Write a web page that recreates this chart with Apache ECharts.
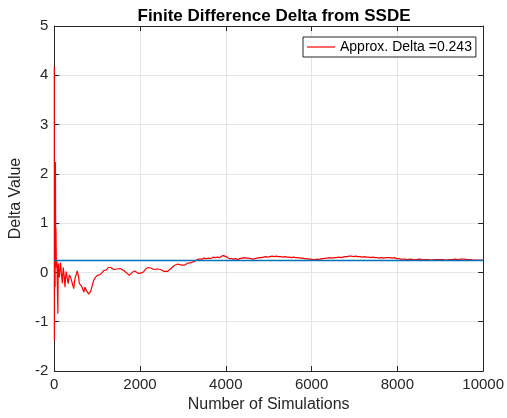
<!DOCTYPE html>
<html>
<head>
<meta charset="utf-8">
<script src="https://cdn.jsdelivr.net/npm/echarts@6/dist/echarts.min.js"></script>
<style>
  html, body { margin: 0; padding: 0; background: #fff; }
  #chart { width: 507px; height: 418px; }
</style>
</head>
<body>
<div id="chart"></div>
<script>
// Running estimate of the finite-difference delta vs. number of simulations
const simCounts = [1, 3, 8, 14, 20, 28, 34, 40, 50, 62, 72, 84, 92, 98, 108, 120, 132, 145, 159, 170, 180, 189, 200, 210, 220, 235, 250, 265, 278, 289, 300, 315, 325, 340, 352, 364, 380, 402, 420, 440, 455, 470, 485, 500, 520, 535, 552, 565, 575, 584, 600, 615, 630, 650, 670, 689, 705, 716, 727, 745, 766, 790, 805, 818, 835, 850, 866, 880, 900, 915, 932, 960, 985, 1007, 1030, 1060, 1084, 1110, 1135, 1159, 1190, 1215, 1234, 1260, 1280, 1295, 1320, 1350, 1386, 1420, 1460, 1500, 1539, 1580, 1620, 1652, 1690, 1720, 1750, 1790, 1830, 1880, 1920, 1960,
  2000, 2040, 2090, 2130, 2160, 2190, 2220, 2250, 2290, 2330, 2370, 2400, 2440, 2480, 2520, 2560, 2600, 2640, 2680, 2720, 2760, 2800, 2840, 2880, 2920, 2960, 3000, 3040, 3080, 3120, 3160, 3200, 3240, 3280, 3320, 3360, 3400, 3450, 3500, 3550, 3600, 3650, 3700, 3750, 3800, 3850, 3900, 3950, 3990, 4030, 4080, 4130, 4180, 4230, 4280, 4330, 4380, 4430, 4480, 4530, 4580, 4630, 4680, 4730, 4780, 4830, 4880, 4930, 4980, 5030, 5080, 5130, 5180, 5230, 5280, 5330, 5380, 5430, 5480, 5530, 5580, 5630, 5680, 5730, 5780, 5830, 5880, 5930, 5980, 6030, 6080, 6130, 6180, 6230, 6280, 6330, 6380, 6430, 6480, 6530, 6580, 6630, 6680, 6730, 6780, 6830, 6880, 6930, 6980, 7030, 7080, 7130, 7180, 7230, 7280, 7330, 7380, 7430, 7480, 7530, 7580, 7630, 7680, 7730, 7780, 7830, 7880, 7930, 7980, 8030, 8080, 8130, 8180, 8230, 8300, 8370, 8440, 8510, 8580, 8650, 8720, 8790, 8860, 8930, 9000, 9070, 9140, 9210, 9280, 9350, 9420, 9490, 9560, 9630, 9700, 9770, 9840, 9910, 10000];
const deltaEstimates = [4.18, -1.38, 1.2, 0.6, -0.3, 2.24, 0.5, 0.9, 0.1, 0.25, -0.2, -0.84, 0.1, 0.18, -0.05, -0.1, 0.05, 0.2, 0.2, -0.05, -0.15, -0.22, -0.05, 0.1, 0.1, -0.1, -0.3, -0.1, 0.02, 0.04, -0.1, -0.18, -0.23, -0.12, -0.05, -0.03, -0.1, -0.16, -0.22, -0.28, -0.33, -0.2, -0.12, -0.1, -0.02, 0.03, 0.04, -0.08, -0.15, -0.22, -0.2, -0.24, -0.26, -0.3, -0.35, -0.4, -0.35, -0.3, -0.3, -0.36, -0.33, -0.4, -0.44, -0.47, -0.42, -0.38, -0.33, -0.3, -0.22, -0.17, -0.13, -0.1, -0.07, -0.06, -0.08, -0.05, -0.06, -0.01, 0.03, 0.04, 0.07, 0.05, 0.08, 0.1, 0.12, 0.13, 0.1, 0.08, 0.06, 0.05, 0.07, 0.06, 0.08, 0.05, 0.04, 0.03, -0.01, -0.03, -0.06, -0.02, 0.01, 0.03, 0.0, -0.02,
  -0.02, -0.01, 0.02, 0.07, 0.06, 0.10, 0.11, 0.09, 0.08, 0.06, 0.05, 0.07, 0.05, 0.06, 0.04, 0.02, 0.03, 0.02, 0.06, 0.08, 0.11, 0.14, 0.15, 0.17, 0.18, 0.15, 0.16, 0.15, 0.18, 0.19, 0.21, 0.20, 0.22, 0.23, 0.26, 0.27, 0.28, 0.27, 0.29, 0.28, 0.29, 0.28, 0.31, 0.30, 0.31, 0.30, 0.33, 0.34, 0.32, 0.31, 0.28, 0.28, 0.27, 0.28, 0.26, 0.28, 0.29, 0.30, 0.29, 0.29, 0.28, 0.27, 0.28, 0.29, 0.30, 0.30, 0.31, 0.32, 0.31, 0.32, 0.33, 0.32, 0.33, 0.32, 0.32, 0.31, 0.32, 0.31, 0.31, 0.30, 0.31, 0.30, 0.30, 0.29, 0.29, 0.28, 0.28, 0.27, 0.27, 0.26, 0.26, 0.27, 0.26, 0.28, 0.28, 0.29, 0.29, 0.30, 0.29, 0.30, 0.30, 0.31, 0.30, 0.31, 0.32, 0.32, 0.33, 0.33, 0.32, 0.33, 0.32, 0.32, 0.31, 0.32, 0.31, 0.31, 0.30, 0.31, 0.30, 0.30, 0.29, 0.30, 0.29, 0.30, 0.30, 0.30, 0.29, 0.30, 0.28, 0.28, 0.27, 0.27, 0.27, 0.26, 0.27, 0.26, 0.26, 0.27, 0.26, 0.26, 0.26, 0.25, 0.26, 0.26, 0.26, 0.26, 0.25, 0.26, 0.26, 0.27, 0.26, 0.27, 0.27, 0.26, 0.26, 0.25, 0.25, 0.25, 0.243];
const approxDelta = 0.243;
const xRange = [0, 10000];
const xTicks = [0, 2000, 4000, 6000, 8000, 10000];
const yTicks = [-2, -1, 0, 1, 2, 3, 4, 5];

const axisColor = '#262626';
const gridColor = '#e5e5e5';
const fontFamily = 'Liberation Sans, Arial, Helvetica, sans-serif';

const estimateSeries = simCounts.map((n, i) => [n, deltaEstimates[i]]);
const legendName = 'Approx. Delta =' + approxDelta.toFixed(3);

const chart = echarts.init(document.getElementById('chart'), null, { renderer: 'canvas' });

const baseX = {
  type: 'value',
  min: xTicks[0],
  max: xTicks[xTicks.length - 1],
  interval: 2000,
  axisLine: { show: true, onZero: false, lineStyle: { color: axisColor, width: 1 } },
  axisTick: { show: true, inside: true, length: 5, lineStyle: { color: axisColor } },
};
const baseY = {
  type: 'value',
  min: yTicks[0],
  max: yTicks[yTicks.length - 1],
  interval: 1,
  axisLine: { show: true, onZero: false, lineStyle: { color: axisColor, width: 1 } },
  axisTick: { show: true, inside: true, length: 5, lineStyle: { color: axisColor } },
};

chart.setOption({
  animation: false,
  backgroundColor: '#ffffff',
  title: {
    text: 'Finite Difference Delta from SSDE',
    left: 269,
    textAlign: 'center',
    top: 3,
    textStyle: { fontFamily, fontSize: 17, fontWeight: 'bold', color: '#000' }
  },
  grid: { left: 49, right: 18, top: 26, bottom: 47, containLabel: false },
  legend: {
    data: [{ name: legendName }],
    left: 303,
    top: 37,
    orient: 'vertical',
    itemWidth: 28,
    itemHeight: 1.2,
    itemGap: 0,
    padding: [3, 4, 3, 4],
    borderColor: '#262626',
    borderWidth: 1,
    backgroundColor: '#fff',
    icon: 'rect',
    textStyle: { fontFamily, fontSize: 14, color: '#000', padding: [0, 0, 0, 0] }
  },
  xAxis: [
    Object.assign({}, baseX, {
      position: 'bottom',
      name: 'Number of Simulations',
      nameLocation: 'middle',
      nameGap: 25,
      nameTextStyle: { fontFamily, fontSize: 16, color: axisColor },
      axisLabel: { show: true, fontFamily, fontSize: 15, color: axisColor, margin: 6, formatter: v => String(v) },
      splitLine: { show: true, lineStyle: { color: gridColor, width: 1 } }
    }),
    Object.assign({}, baseX, {
      position: 'top',
      axisLabel: { show: false },
      splitLine: { show: false }
    })
  ],
  yAxis: [
    Object.assign({}, baseY, {
      position: 'left',
      name: 'Delta Value',
      nameLocation: 'middle',
      nameGap: 23,
      nameTextStyle: { fontFamily, fontSize: 16, color: axisColor },
      axisLabel: { show: true, fontFamily, fontSize: 15, color: axisColor, margin: 6, formatter: v => String(v) },
      splitLine: { show: true, lineStyle: { color: gridColor, width: 1 } }
    }),
    Object.assign({}, baseY, {
      position: 'right',
      axisLabel: { show: false },
      splitLine: { show: false }
    })
  ],
  series: [
    {
      name: legendName,
      type: 'line',
      data: estimateSeries,
      showSymbol: false,
      symbol: 'none',
      color: '#ff0000',
      lineStyle: { color: '#ff0000', width: 1.2 },
      z: 3
    },
    {
      name: 'reference',
      type: 'line',
      data: [[xRange[0], approxDelta], [xRange[1], approxDelta]],
      showSymbol: false,
      symbol: 'none',
      color: '#0072bd',
      lineStyle: { color: '#0072bd', width: 1.5 },
      z: 4
    }
  ]
});
</script>
</body>
</html>
